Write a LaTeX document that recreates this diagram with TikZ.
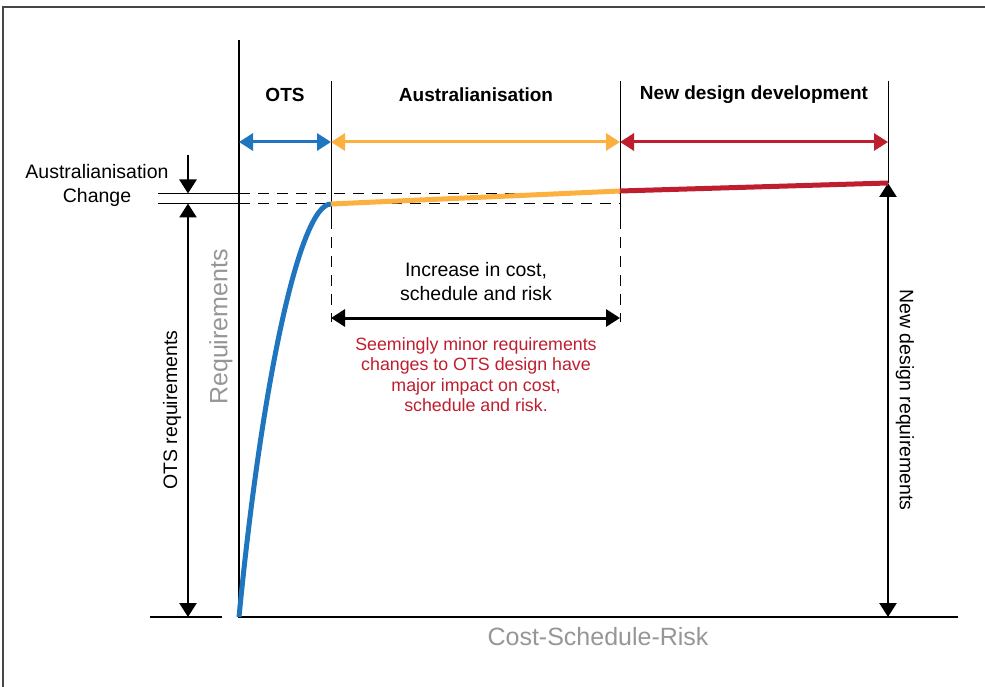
\documentclass[tikz,border=0pt]{standalone}
\usepackage{fontspec}
\setmainfont{Liberation Sans}
\usetikzlibrary{arrows.meta}
\definecolor{otsblue}{RGB}{31,117,190}
\definecolor{ausorange}{RGB}{251,176,64}
\definecolor{newred}{RGB}{190,30,45}
\definecolor{axisgray}{RGB}{150,150,150}
\definecolor{framegray}{RGB}{70,70,70}

\tikzset{
  both/.style={{Triangle[length=14pt,width=17pt]}-{Triangle[length=14pt,width=17pt]}},
  onlyend/.style={-{Triangle[length=14pt,width=17pt]}},
  guide/.style={line width=1pt},
  guidedash/.style={line width=1pt,dash pattern=on 11pt off 8pt},
}

\begin{document}
\begin{tikzpicture}[x=1pt,y=-1pt,
    hdr/.style={font=\fontsize{19}{23}\selectfont\bfseries},
    lbl/.style={font=\fontsize{19.5}{24}\selectfont,align=center},
    note/.style={font=\fontsize{17.8}{20.5}\selectfont,align=center,text=newred},
    axlbl/.style={font=\fontsize{25}{30}\selectfont,text=axisgray}]
    \useasboundingbox (0,0) rectangle (985,687);
    \draw [framegray,line width=2pt] (3,690) -- (3,7) -- (990,7);

    % axes
    \coordinate (O) at (239,617);
    \coordinate (ytop) at (239,40);
    \coordinate (xend) at (958,617);
    \coordinate (lbase) at (150,617);
    \coordinate (rbase) at (222,617);
    \draw [line width=2.5pt] (ytop) -- (O) -- (xend);
    \draw [line width=2.5pt] (lbase) -- (rbase);

    % knee points of the curve
    \coordinate (knee) at (331,204);
    \coordinate (mid) at (620,191);
    \coordinate (fin) at (888,183);

    % phase boundaries
    \coordinate (t1) at (331,81);
    \coordinate (t2) at (620,81);
    \coordinate (t3) at (888,81);
    \coordinate (s1) at (331,218);
    \coordinate (s2) at (620,218);
    \coordinate (d1) at (331,322);
    \coordinate (d2) at (620,322);
    \draw [guide] (t1) -- (s1);
    \draw [guide] (t2) -- (s2);
    \draw [guide] (t3) -- (fin);
    \draw [guidedash] (s1) -- (d1);
    \draw [guidedash] (s2) -- (d2);

    % change levels
    \coordinate (hiL) at (158,193.5);
    \coordinate (hiA) at (239,193.5);
    \coordinate (hiR) at (620,193.5);
    \coordinate (loL) at (158,203.5);
    \coordinate (loA) at (239,203.5);
    \coordinate (loR) at (620,203.5);
    \draw [guide] (hiL) -- (hiA);
    \draw [guide] (loL) -- (loA);
    \draw [guidedash] (hiA) -- (hiR);
    \draw [guidedash] (loA) -- (loR);

    % phase spans
    \coordinate (p0) at (239,142);
    \coordinate (p1) at (331,142);
    \coordinate (p2) at (620,142);
    \coordinate (p3) at (888,142);
    \draw [both,line width=3pt,otsblue] (p0) -- (p1);
    \draw [both,line width=3pt,ausorange] (p1) -- (p2);
    \draw [both,line width=3pt,newred] (p2) -- (p3);

    \node [hdr] (ots) at (285,95) {OTS};
    \node [hdr] (aus) at (476,95) {Australianisation};
    \node [hdr] (new) at (754,95) {New design development};

    % requirement arrows
    \coordinate (chtop) at (188,155);
    \coordinate (chtip) at (188,193.5);
    \coordinate (otstop) at (188,203.5);
    \coordinate (otsbot) at (188,617);
    \coordinate (newbot) at (888,617);
    \draw [onlyend,line width=2.5pt] (chtop) -- (chtip);
    \draw [both,line width=2.5pt] (otstop) -- (otsbot);
    \draw [both,line width=2.5pt] (fin) -- (newbot);

    % cost increase
    \coordinate (c1) at (331,318);
    \coordinate (c2) at (620,318);
    \draw [both,line width=3pt] (c1) -- (c2);

    % requirements curve
    \draw [otsblue,line width=5pt] (O) .. controls (262,380) and (300,204) .. (knee);
    \draw [ausorange,line width=5pt] (knee) -- (mid);
    \draw [newred,line width=5pt] (mid) -- (fin);

    \node [lbl] (chg) at (97,185.5) {Australianisation\\Change};
    \node [lbl] (incr) at (476,282) {Increase in cost,\\schedule and risk};
    \node [note] (remark) at (476,374.5) {Seemingly minor requirements\\changes to OTS design have\\major impact on cost,\\schedule and risk.};
    \node [lbl,rotate=90] (otsreq) at (172,410) {OTS requirements};
    \node [lbl,rotate=-90] (newreq) at (905,400) {New design requirements};
    \node [axlbl,rotate=90] (reqy) at (221,327) {Requirements};
    \node [axlbl] (costx) at (598,637) {Cost-Schedule-Risk};
\end{tikzpicture}
\end{document}
